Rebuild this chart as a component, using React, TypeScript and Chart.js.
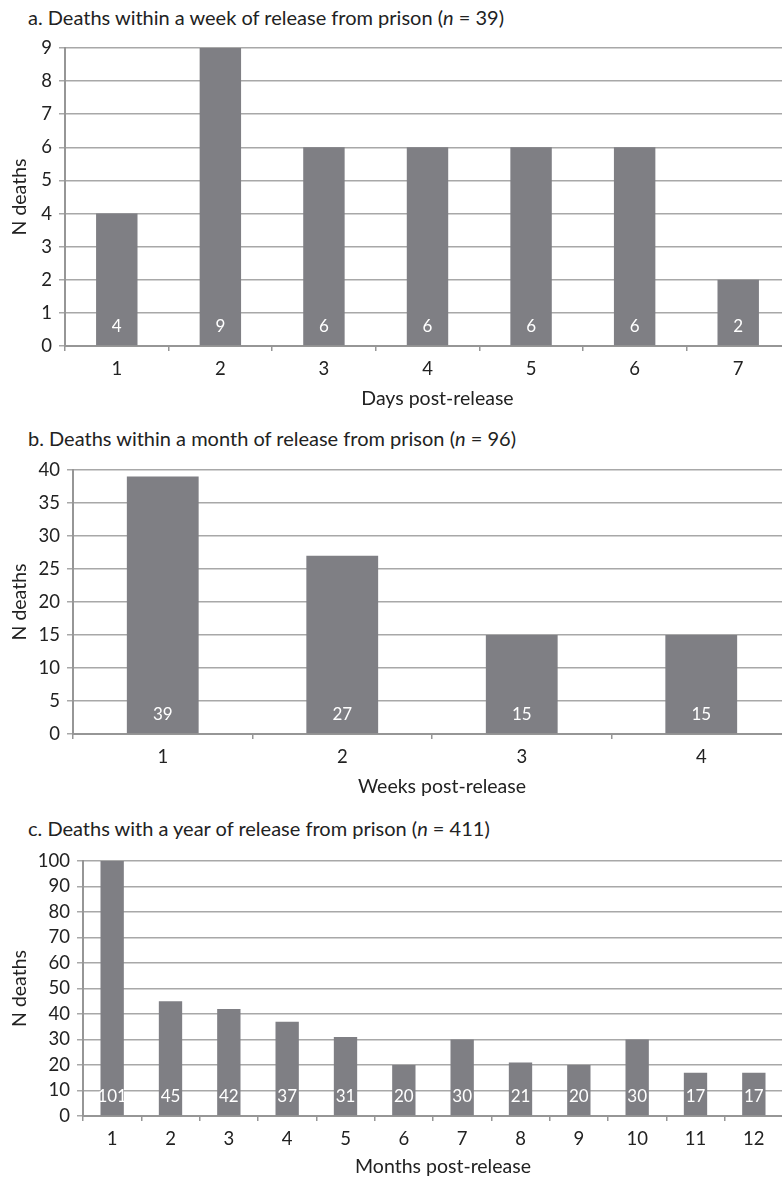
import React, { useEffect, useRef } from "react";
import { Chart, registerables } from "chart.js";

Chart.register(...registerables);

// ---- Data ----
const dayLabels = ["1", "2", "3", "4", "5", "6", "7"];
const dayDeaths = [4, 9, 6, 6, 6, 6, 2];
const dayAxisMax = 9;
const dayAxisStep = 1;

const weekLabels = ["1", "2", "3", "4"];
const weekDeaths = [39, 27, 15, 15];
const weekAxisMax = 40;
const weekAxisStep = 5;

const monthLabels = ["1", "2", "3", "4", "5", "6", "7", "8", "9", "10", "11", "12"];
const monthDeaths = [101, 45, 42, 37, 31, 20, 30, 21, 20, 30, 17, 17];
const monthAxisMax = 100;
const monthAxisStep = 10;

const FONT = "Lato, 'Open Sans', sans-serif";
const BAR = "#7f7f84";
const GRID = "#a8a8a8";
const AXIS = "#969696";
const TEXT = "#222222";

const valueLabelPlugin = {
  id: "valueLabels",
  afterDatasetsDraw(chart: any) {
    const ctx = chart.ctx;
    const meta = chart.getDatasetMeta(0);
    const data = chart.data.datasets[0].data;
    ctx.save();
    ctx.fillStyle = "#ffffff";
    ctx.font = `17px ${FONT}`;
    ctx.textAlign = "center";
    ctx.textBaseline = "middle";
    meta.data.forEach((bar: any, i: number) => {
      ctx.fillText(String(data[i]), bar.x, chart.chartArea.bottom - 19);
    });
    ctx.restore();
  },
};

type PanelProps = {
  top: number;
  height: number;
  width: number;
  padTop: number;
  yWidth: number;
  xHeight: number;
  xTitlePad: number;
  labels: string[];
  values: number[];
  yMax: number;
  yStep: number;
  xTitle: string;
  titleTop: number;
  titlePrefix: string;
  titleN: string;
};

function Panel(p: PanelProps) {
  const ref = useRef<HTMLCanvasElement | null>(null);
  useEffect(() => {
    if (!ref.current) return;
    const chart = new Chart(ref.current, {
      type: "bar",
      data: {
        labels: p.labels,
        datasets: [
          {
            data: p.values,
            backgroundColor: BAR,
            borderWidth: 0,
            categoryPercentage: 1,
            barPercentage: 0.4,
          },
        ],
      },
      options: {
        animation: false,
        responsive: false,
        devicePixelRatio: 1,
        layout: { padding: { top: p.padTop, left: 0, right: 0, bottom: 0 } },
        plugins: {
          legend: { display: false },
          tooltip: { enabled: false },
          title: { display: false },
        },
        scales: {
          x: {
            afterFit: (s: any) => {
              s.height = p.xHeight;
              if (!s._shiftedTitle) {
                const orig = s.drawTitle.bind(s);
                s.drawTitle = () => {
                  s.ctx.save();
                  s.ctx.translate(10, 0);
                  orig();
                  s.ctx.restore();
                };
                s._shiftedTitle = true;
              }
            },
            grid: {
              drawOnChartArea: false,
              drawTicks: true,
              tickLength: 5,
              color: AXIS,
              lineWidth: 1.5,
            },
            border: { display: true, color: AXIS, width: 2 },
            ticks: {
              color: TEXT,
              font: { family: FONT, size: 18.5 },
              padding: 7,
              maxRotation: 0,
            },
            title: {
              display: true,
              text: p.xTitle,
              color: TEXT,
              font: { family: FONT, size: 19.5 },
              padding: { top: 0, bottom: p.xTitlePad },
            },
          },
          y: {
            min: 0,
            max: p.yMax,
            afterFit: (s: any) => {
              s.width = p.yWidth;
            },
            grid: {
              color: GRID,
              lineWidth: 1.5,
              drawTicks: true,
              tickLength: 6,
            },
            border: { display: true, color: AXIS, width: 2 },
            ticks: {
              stepSize: p.yStep,
              color: TEXT,
              font: { family: FONT, size: 18.5 },
              padding: 7,
            },
            title: {
              display: true,
              text: "N deaths",
              color: TEXT,
              font: { family: FONT, size: 19.5 },
              padding: { top: 8, bottom: 0 },
            },
          },
        },
      },
      plugins: [valueLabelPlugin],
    });
    return () => chart.destroy();
  }, []);

  return (
    <>
      <div
        style={{
          position: "absolute",
          left: 28,
          top: p.titleTop - 12,
          fontFamily: FONT,
          fontSize: 20,
          lineHeight: "24px",
          color: TEXT,
          whiteSpace: "nowrap",
        }}
      >
        {p.titlePrefix}(<i>n</i> = {p.titleN})
      </div>
      <canvas
        ref={ref}
        width={p.width}
        height={p.height}
        style={{
          position: "absolute",
          left: 0,
          top: p.top,
          width: p.width,
          height: p.height,
        }}
      />
    </>
  );
}

export default function App() {
  return (
    <div
      style={{
        position: "absolute",
        left: 0,
        top: 0,
        width: 782,
        height: 1178,
        overflow: "hidden",
        background: "#ffffff",
      }}
    >
      <Panel
        top={0}
        height={412}
        width={790}
        padTop={48}
        yWidth={65}
        xHeight={66}
        xTitlePad={2}
        labels={dayLabels}
        values={dayDeaths}
        yMax={dayAxisMax}
        yStep={dayAxisStep}
        xTitle="Days post-release"
        titleTop={17}
        titlePrefix="a. Deaths within a week of release from prison "
        titleN="39"
      />
      <Panel
        top={412}
        height={388}
        width={791}
        padTop={58}
        yWidth={73}
        xHeight={66}
        xTitlePad={2}
        labels={weekLabels}
        values={weekDeaths}
        yMax={weekAxisMax}
        yStep={weekAxisStep}
        xTitle="Weeks post-release"
        titleTop={438}
        titlePrefix="b. Deaths within a month of release from prison "
        titleN="96"
      />
      <Panel
        top={800}
        height={378}
        width={783}
        padTop={61}
        yWidth={83}
        xHeight={62}
        xTitlePad={0}
        labels={monthLabels}
        values={monthDeaths}
        yMax={monthAxisMax}
        yStep={monthAxisStep}
        xTitle="Months post-release"
        titleTop={828}
        titlePrefix="c. Deaths with a year of release from prison "
        titleN="411"
      />
    </div>
  );
}
